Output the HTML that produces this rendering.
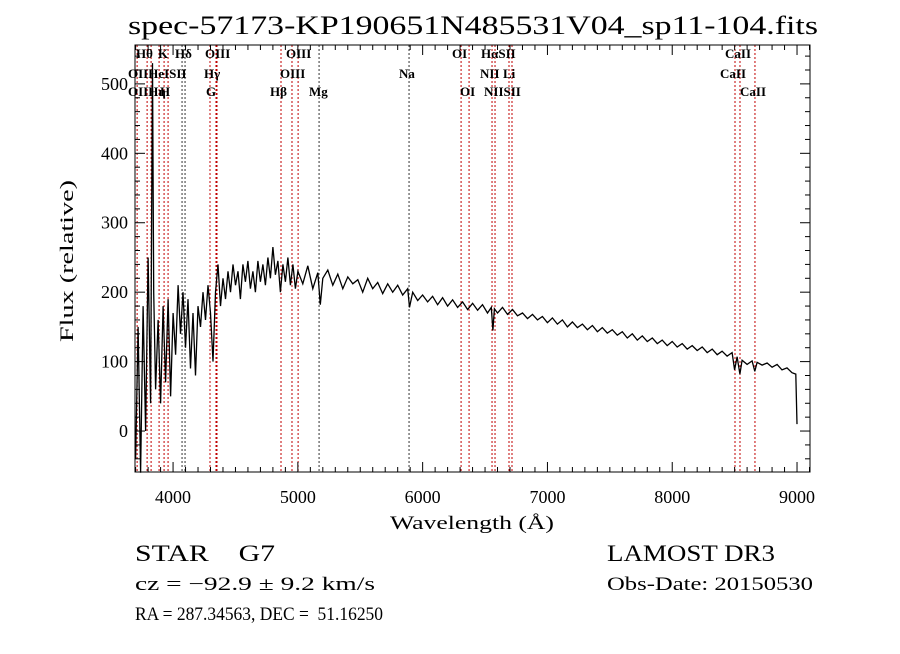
<!DOCTYPE html>
<html><head><meta charset="utf-8"><style>
body{margin:0;background:#fff}
svg text{font-family:"Liberation Serif",serif;fill:#000;white-space:pre}
</style></head><body>
<svg id="chart" width="900" height="649" viewBox="0 0 900 649" xmlns="http://www.w3.org/2000/svg" xml:space="preserve">
<rect width="900" height="649" fill="#fff"/>
<text x="128" y="34" font-size="26" textLength="690" lengthAdjust="spacingAndGlyphs">spec-57173-KP190651N485531V04_sp11-104.fits</text>
<g id="lines"></g>
<g id="labels"></g>
<path id="spec" fill="none" stroke="#000" stroke-width="1.3"/>
<rect x="135" y="45" width="675" height="427" fill="none" stroke="#000" stroke-width="1"/>
<g id="ticks" stroke="#000" stroke-width="1"></g>
<g id="xlab"></g>
<g id="ylab"></g>
<text x="390" y="529" font-size="19" textLength="164" lengthAdjust="spacingAndGlyphs">Wavelength (Å)</text>
<text transform="translate(73,342) rotate(-90)" font-size="19" textLength="162" lengthAdjust="spacingAndGlyphs">Flux (relative)</text>
<text x="135" y="561" font-size="23" textLength="140" lengthAdjust="spacingAndGlyphs">STAR    G7</text>
<text x="607" y="561" font-size="23" textLength="168" lengthAdjust="spacingAndGlyphs">LAMOST DR3</text>
<text x="135" y="590" font-size="19" textLength="240" lengthAdjust="spacingAndGlyphs">cz = −92.9 ± 9.2 km/s</text>
<text x="607" y="590" font-size="19" textLength="206" lengthAdjust="spacingAndGlyphs">Obs-Date: 20150530</text>
<text x="135" y="620" font-size="19" textLength="248" lengthAdjust="spacingAndGlyphs">RA = 287.34563, DEC =  51.16250</text>
</svg>
<script>
const waves=[3700,3720,3740,3760,3780,3800,3820,3835,3845,3860,3880,3900,3920,3940,3960,3980,4000,4020,4040,4060,4080,4100,4120,4140,4160,4180,4200,4220,4240,4260,4280,4300,4320,4340,4360,4380,4400,4420,4440,4460,4480,4500,4520,4540,4560,4580,4600,4620,4640,4660,4680,4700,4720,4740,4760,4780,4800,4820,4840,4860,4880,4900,4920,4940,4960,4980,
5000,5040,5080,5120,5160,5180,5200,5240,5280,5320,5360,5400,5440,5480,5520,5560,5600,5640,5680,5720,5760,5800,5840,5880,5895,5920,5960,6000,
6040,6080,6120,6160,6200,6240,6280,6320,6360,6400,6440,6480,6520,6550,6563,6575,6600,6640,6680,6720,6760,6800,6840,6880,6920,6960,7000,7040,7080,7120,7160,7200,7240,7280,7320,7360,7400,7440,7480,7520,7560,7600,7640,7680,7720,7760,7800,7840,7880,7920,7960,8000,8040,8080,8120,8160,8200,8240,8280,8320,8360,8400,8440,8480,8500,8520,8542,8560,8600,8640,8662,8680,8720,8760,8800,8840,8880,8920,8960,8990,9000];
const flux=[-40,150,-60,180,0,250,40,530,200,60,160,40,180,70,190,50,170,110,210,140,200,120,190,90,170,80,180,150,200,160,210,170,100,200,240,180,220,190,230,200,240,210,230,190,240,215,245,205,230,200,245,215,240,210,250,220,265,225,245,200,240,215,250,210,240,205,
230,212,238,205,228,182,220,232,210,226,205,222,212,218,200,220,205,214,198,212,200,210,196,205,178,200,188,196,
186,194,182,192,180,189,178,186,175,184,174,182,170,178,145,176,170,178,168,175,166,170,162,168,160,165,156,163,154,160,150,157,149,154,146,152,143,149,141,146,138,143,134,140,131,137,129,134,126,131,123,129,121,126,118,123,116,121,113,118,110,115,108,113,88,107,82,102,96,101,86,99,95,98,92,96,88,91,84,82,10];
const lineWaves=[3712,3792,3824,3888,3928,3960,4072,4096,4296,4344,4352,4865,4953,5002,5170,5891,6308,6372,6556,6580,6692,6716,8503,8543,8663];
const labelText=["Hθ","K","Hδ","OIII","OIII","OI","HαSII","CaII","OIIHeISII","Hγ","OIII","Na","NII","Li","CaII","OIIHη","H","G","Hβ","Mg","OI","NIISII","CaII"];
const xTicks=[4000,5000,6000,7000,8000,9000];
const yTicks=[0,100,200,300,400,500];
const X0=135,X1=810,Y0=45,Y1=472,W0=3695,W1=9104,F0=-59,F1=556;
const sx=w=>X0+(w-W0)/(W1-W0)*(X1-X0);
const sy=f=>Y1-(f-F0)/(F1-F0)*(Y1-Y0);
const NS="http://www.w3.org/2000/svg";
function mk(t,parent,attrs){const e=document.createElementNS(NS,t);for(const k in attrs)e.setAttribute(k,attrs[k]);parent.appendChild(e);return e;}
let d="";waves.forEach((w,i)=>{d+=(i?"L":"M")+sx(w).toFixed(1)+","+sy(flux[i]).toFixed(1);});
document.getElementById("spec").setAttribute("d",d);
const lg=document.getElementById("lines");
lineWaves.forEach(w=>{
 const l=mk("line",lg,{x1:sx(w),x2:sx(w),y1:Y0,y2:Y1,stroke:(w>4050&&w<4100)||(w>5100&&w<5950)?"#333":"#c00000","stroke-width":1,"stroke-dasharray":"2,2"});
 
 
});
const labelPos=[[136,58],[158,58],[175,58],[205,58],[286,58],[452,58],[481,58],[725,58],[128,78],[204,78],[280,78],[399,78],[480,78],[503,78],[720,78],[128,96],[160,96],[206,96],[270,96],[309,96],[460,96],[484,96],[740,96]];
const lab=document.getElementById("labels");
labelText.forEach((t,i)=>{
 const e=mk("text",lab,{x:labelPos[i][0],y:labelPos[i][1],"font-size":13,"font-weight":"bold"});
 e.textContent=t;
 
 
});
const tg=document.getElementById("ticks");
for(let w=3700;w<=9100;w+=100){const maj=w%1000===0;const L=maj?10:5;const x=sx(w);
 mk("line",tg,{x1:x,x2:x,y1:Y1,y2:Y1-L});mk("line",tg,{x1:x,x2:x,y1:Y0,y2:Y0+L});}
for(let f=-40;f<=540;f+=20){const maj=f%100===0;const L=maj?10:5;const y=sy(f);
 mk("line",tg,{x1:X0,x2:X0+L,y1:y,y2:y});mk("line",tg,{x1:X1,x2:X1-L,y1:y,y2:y});}
const xl=document.getElementById("xlab");
xTicks.forEach(v=>{const e=mk("text",xl,{x:sx(v),y:503,"font-size":18,"text-anchor":"middle"});e.textContent=v;
 
 });
const yl=document.getElementById("ylab");
yTicks.forEach(v=>{const e=mk("text",yl,{x:128,y:sy(v)+6,"font-size":18,"text-anchor":"end"});e.textContent=v;
 
 });
</script>
</body></html>
